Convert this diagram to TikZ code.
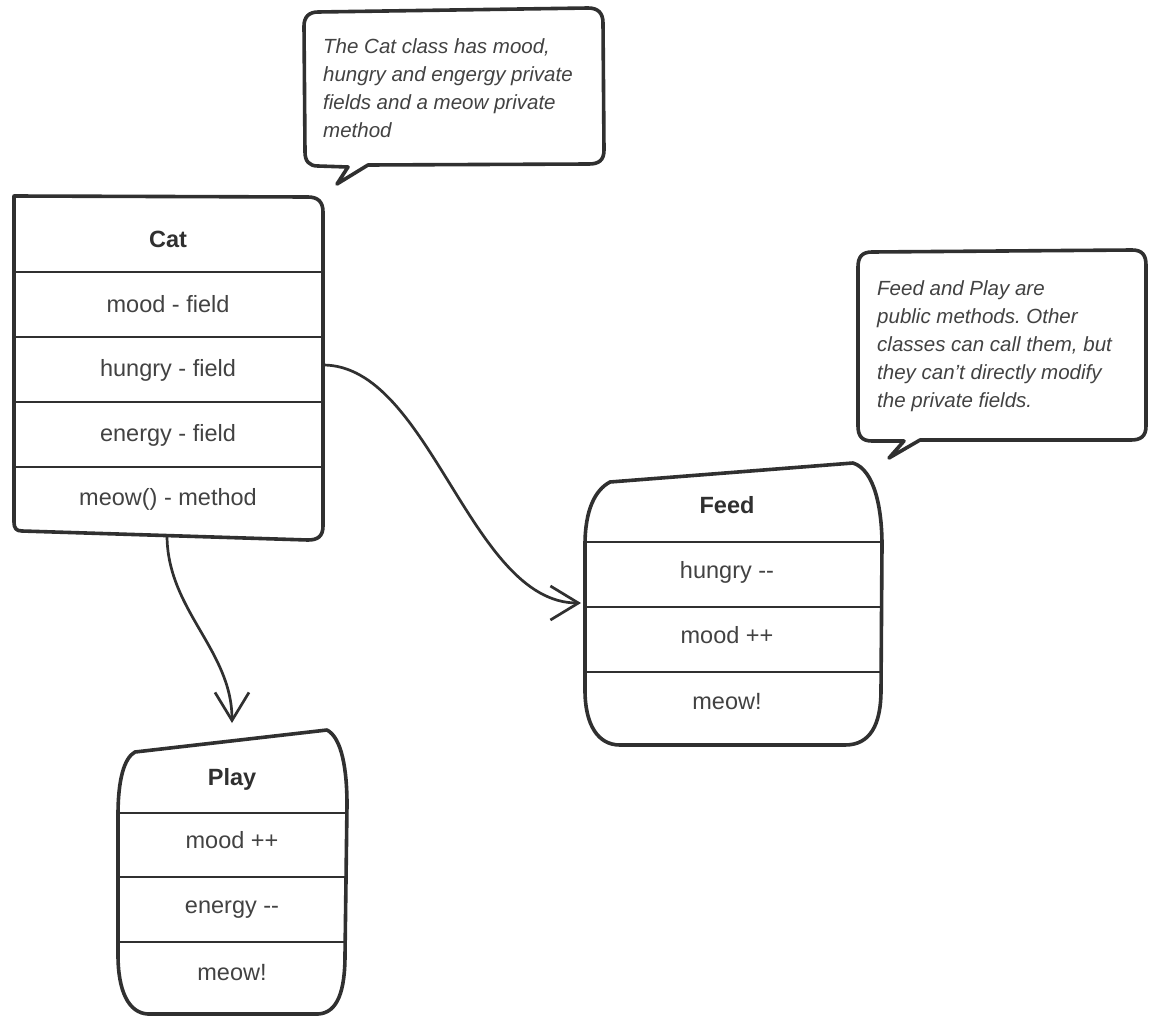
\documentclass[tikz,border=0pt]{standalone}
\usepackage{fontspec}
\setmainfont{Liberation Sans}
\usetikzlibrary{arrows.meta}
\definecolor{ink}{HTML}{303030}
\definecolor{txt}{HTML}{424242}
\frenchspacing
\begin{document}
\begin{tikzpicture}[x=1pt,y=-1pt,
  outline/.style={draw=ink,line width=3.6pt,line join=round},
  divider/.style={draw=ink,line width=2.8pt},
  item/.style={text=txt,font=\fontsize{23.5}{28}\selectfont,anchor=base,inner sep=0pt},
  title/.style={text=ink,font=\fontsize{23.5}{28}\selectfont\bfseries,anchor=base,inner sep=0pt},
  note/.style={text=txt,font=\fontsize{20.5}{28}\selectfont\itshape,align=left,anchor=north west,inner sep=0pt},
  link/.style={draw=ink,line width=2.7pt,-{Straight Barb[length=28pt,width=34pt,line width=2.7pt]}}]
\useasboundingbox[fill=white] (0,0) rectangle (1149,1017);

% ---------- speech bubble 1 ----------
\draw[outline,fill=white] (318,12) -- (588,8) .. controls (598,8) and (603,13) .. (603,23)
  -- (604,150) .. controls (604,160) and (599,164) .. (589,164) -- (368,165) -- (337,184)
  -- (348,167) -- (318,166) .. controls (309,166) and (305,161) .. (305,152)
  -- (304,26) .. controls (304,17) and (309,12) .. (318,12) -- cycle;
\node[note] (note1) at (323,38.5) {The Cat class has mood,\\hungry and engergy private\\fields and a meow private\\method};

% ---------- speech bubble 2 ----------
\draw[outline,fill=white] (872,252) -- (1132,250) .. controls (1142,250) and (1146,255) .. (1146,265)
  -- (1146,426) .. controls (1146,436) and (1141,440) .. (1131,440) -- (920,440) -- (889,458)
  -- (904,441) -- (872,441) .. controls (862,441) and (858,436) .. (858,426)
  -- (858,267) .. controls (858,257) and (862,252) .. (872,252) -- cycle;
\node[note] (note2) at (877,280.5) {Feed and Play are\\public methods. Other\\classes can call them, but\\they can\symbol{"27}t directly modify\\the private fields.};

% ---------- Cat class ----------
\draw[outline] (14,196) -- (308,197) .. controls (318,197) and (323,202) .. (323,212)
  -- (323,526) .. controls (323,536) and (318,540) .. (308,540)
  -- (22,531) .. controls (16,531) and (14,528) .. (14,522) -- cycle;
\draw[divider] (14,272) -- (323,272);
\draw[divider] (14,337) -- (323,337);
\draw[divider] (14,402) -- (323,402);
\draw[divider] (14,467) -- (323,467);
\node[title] (catT) at (168,247) {Cat};
\node[item] (cat1) at (168,312) {mood - field};
\node[item] (cat2) at (168,376) {hungry - field};
\node[item] (cat3) at (168,441) {energy - field};
\node[item] (cat4) at (168,505) {meow() - method};
\coordinate (catR) at (323,365);
\coordinate (catB) at (167,535);

% ---------- Feed ----------
\draw[outline] (610,482) -- (853,463) .. controls (875,470) and (882,510) .. (882,545)
  -- (881,690) .. controls (881,725) and (870,745) .. (845,745)
  -- (620,745) .. controls (598,745) and (585,725) .. (585,690)
  -- (585,545) .. controls (585,510) and (595,490) .. (610,482) -- cycle;
\draw[divider] (585,542) -- (882,542);
\draw[divider] (585,607) -- (882,607);
\draw[divider] (585,672) -- (881,672);
\node[title] (feedT) at (727,513) {Feed};
\node[item] (feed1) at (727,578) {hungry -{}-};
\node[item] (feed2) at (727,643) {mood ++};
\node[item] (feed3) at (727,709) {meow!};
\coordinate (feedIn) at (581,603);

% ---------- Play ----------
\draw[outline] (135,752) -- (327,730) .. controls (342,738) and (347,770) .. (347,805)
  -- (345,955) .. controls (345,990) and (338,1013) .. (318,1014)
  -- (148,1014) .. controls (128,1013) and (118,990) .. (118,955)
  -- (118,815) .. controls (118,780) and (124,758) .. (135,752) -- cycle;
\draw[divider] (118,813) -- (347,813);
\draw[divider] (118,877) -- (346,877);
\draw[divider] (118,942) -- (345,942);
\node[title] (playT) at (232,785) {Play};
\node[item] (play1) at (232,848) {mood ++};
\node[item] (play2) at (232,913) {energy -{}-};
\node[item] (play3) at (232,980) {meow!};
\coordinate (playIn) at (232,723);

% ---------- connectors ----------
\draw[link] (catR) .. controls (430,365) and (470,603) .. (feedIn);
\draw[link] (catB) .. controls (167,610) and (232,650) .. (playIn);
\end{tikzpicture}
\end{document}
